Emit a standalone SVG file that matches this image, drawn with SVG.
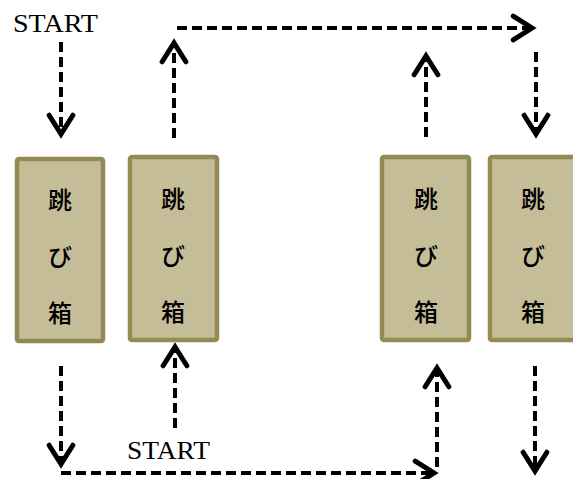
<svg xmlns="http://www.w3.org/2000/svg" width="573" height="479" viewBox="0 0 573 479">
<defs>
<style>
.box{fill:#c4bd97;stroke:#948a54;stroke-width:4.5}
.jp{font-family:"Noto Sans CJK JP","Noto Sans CJK SC",sans-serif;font-size:24px;font-weight:500;text-anchor:middle;fill:#000}
.lbl{font-family:"Liberation Serif",serif;font-size:26px;fill:#000}
.con{fill:none;stroke:#000;stroke-width:4;stroke-dasharray:10 5;marker-end:url(#ah)}
</style>
<marker id="ah" markerUnits="userSpaceOnUse" markerWidth="30" markerHeight="30" viewBox="-20 -12 24 24" refX="0" refY="0" orient="auto">
<path d="M-15,-9.5 L0,0 L-15,9.5" fill="none" stroke="#000" stroke-width="4" stroke-linecap="round" stroke-linejoin="miter"/>
</marker>
</defs>
<g id="node1"><rect class="box" x="17" y="159" width="86" height="182" rx="2"/><text class="jp" x="60" y="209">跳</text><text class="jp" x="60" y="266">び</text><text class="jp" x="60" y="322">箱</text></g>
<g id="node2"><rect class="box" x="130" y="157" width="87" height="183" rx="2"/><text class="jp" x="173" y="208">跳</text><text class="jp" x="173" y="265">び</text><text class="jp" x="173" y="321">箱</text></g>
<g id="node3"><rect class="box" x="382" y="157" width="87" height="183" rx="2"/><text class="jp" x="426" y="208">跳</text><text class="jp" x="426" y="265">び</text><text class="jp" x="426" y="321">箱</text></g>
<g id="node4"><rect class="box" x="490" y="157" width="87" height="183" rx="2"/><text class="jp" x="533" y="208">跳</text><text class="jp" x="533" y="265">び</text><text class="jp" x="533" y="321">箱</text></g>
<g id="label-start-top"><text class="lbl" x="13" y="32" textLength="85" lengthAdjust="spacingAndGlyphs">START</text></g>
<g id="label-start-bottom"><text class="lbl" x="127" y="459" textLength="83" lengthAdjust="spacingAndGlyphs">START</text></g>
<g id="connectors">
<path class="con" d="M61,42 L61,134"/>
<path class="con" d="M174,138 L174,43"/>
<path class="con" d="M177,28 L532,28"/>
<path class="con" d="M426,137 L426,56"/>
<path class="con" d="M536,52 L536,134"/>
<path class="con" d="M61,366 L61,464"/>
<path class="con" d="M175,428 L175,347"/>
<path class="con" d="M61,473 L434,473"/>
<path class="con" d="M437,467 L437,368"/>
<path class="con" d="M535,366 L535,471"/>
</g>
</svg>
